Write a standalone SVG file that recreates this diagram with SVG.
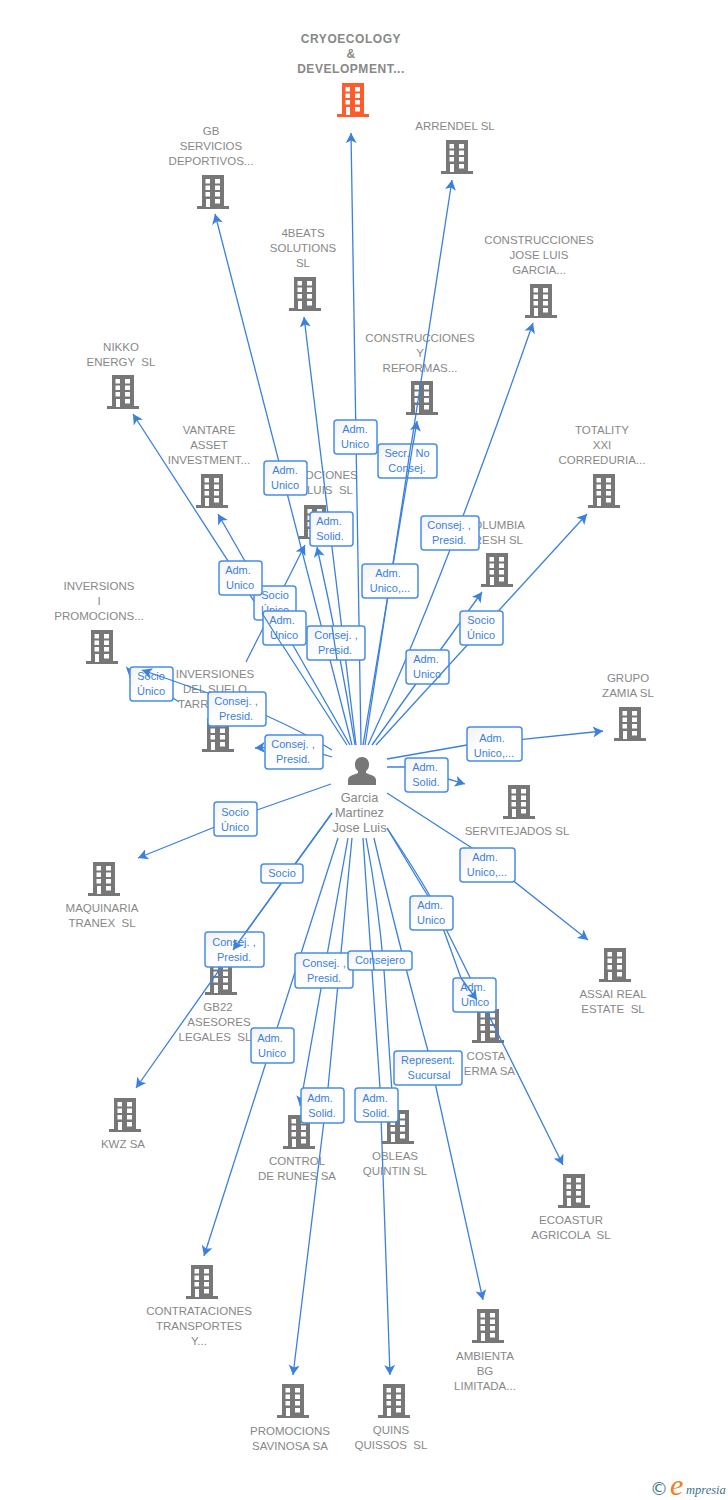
<svg xmlns="http://www.w3.org/2000/svg" width="728" height="1500" viewBox="0 0 728 1500">
<style>
text{font-family:"Liberation Sans",Arial,sans-serif}
.n{font-size:11.5px;fill:#888;text-anchor:middle}
.t{font-weight:bold;font-size:12px;letter-spacing:.55px}
.p{font-size:12.800px}
.b{fill:#777}
.o{fill:#ff5c2b}
.c{fill:none;stroke:#3b80de;stroke-width:1.3;marker-end:url(#a)}
.s{fill:none;stroke:#3b80de;stroke-width:1.3}
.l rect{fill:url(#g);stroke:#4a8ce6;stroke-width:1.5}
.l text{font-size:11px;fill:#3b80de;text-anchor:middle}
</style>
<defs>
<linearGradient id="g" x1="0" y1="0" x2="1" y2="1"><stop offset="0" stop-color="#f2f2f2"/><stop offset=".5" stop-color="#fff"/></linearGradient>
<marker id="a" markerUnits="userSpaceOnUse" markerWidth="12" markerHeight="12" refX="10" refY="6" orient="auto"><path d="M0 .5L10 6L0 11.5L2.500 6z" fill="#3b80de"/></marker>
<path id="bld" fill-rule="evenodd" d="M5 0H27V31H32V34H0V31H5ZM8.500 4V8.500H13V4ZM18 4V8.500H23V4ZM8.500 10.500V15H13V10.500ZM18 10.500V15H23V10.500ZM8.500 17V21.500H13V17ZM18 17V21.500H23V17ZM9 24V32H13V24ZM18 24V28.500H23V24Z"/>
</defs>
<rect width="728" height="1500" fill="#fff"/>
<g id="nodes">
<g id="n-cryo"><use href="#bld" x="337" y="83" class="o"/><text class="n t" x="351" y="43">CRYOECOLOGY</text><text class="n t" x="351" y="58">&amp;</text><text class="n t" x="351" y="73">DEVELOPMENT...</text></g>
<g id="n-gb"><use href="#bld" x="197" y="175" class="b"/><text class="n" x="211" y="135">GB</text><text class="n" x="211" y="150">SERVICIOS</text><text class="n" x="211" y="165">DEPORTIVOS...</text></g>
<g id="n-arrendel"><use href="#bld" x="441" y="140" class="b"/><text class="n" x="455" y="130">ARRENDEL SL</text></g>
<g id="n-4beats"><use href="#bld" x="289" y="277" class="b"/><text class="n" x="303" y="237">4BEATS</text><text class="n" x="303" y="252">SOLUTIONS</text><text class="n" x="303" y="267">SL</text></g>
<g id="n-cjl"><use href="#bld" x="525" y="284" class="b"/><text class="n" x="539" y="244">CONSTRUCCIONES</text><text class="n" x="539" y="259">JOSE LUIS</text><text class="n" x="539" y="274">GARCIA...</text></g>
<g id="n-nikko"><use href="#bld" x="107" y="375" class="b"/><text class="n" x="121" y="351" xml:space="preserve">NIKKO</text><text class="n" x="121" y="366" xml:space="preserve">ENERGY  SL</text></g>
<g id="n-cyr"><use href="#bld" x="406" y="381" class="b"/><text class="n" x="420" y="342">CONSTRUCCIONES</text><text class="n" x="420" y="357">Y</text><text class="n" x="420" y="372">REFORMAS...</text></g>
<g id="n-vantare"><use href="#bld" x="196" y="474" class="b"/><text class="n" x="209" y="434">VANTARE</text><text class="n" x="209" y="449">ASSET</text><text class="n" x="209" y="464">INVESTMENT...</text></g>
<g id="n-prom"><use href="#bld" x="299" y="505" class="b"/><text class="n" x="314" y="479">PROMOCIONES</text><text class="n" x="353" y="494" style="text-anchor:end" xml:space="preserve">LUIS  SL</text></g>
<g id="n-totality"><use href="#bld" x="588" y="474" class="b"/><text class="n" x="602" y="434">TOTALITY</text><text class="n" x="602" y="449">XXI</text><text class="n" x="602" y="464">CORREDURIA...</text></g>
<g id="n-columbia"><use href="#bld" x="481" y="553" class="b"/><text class="n" x="525" y="529" style="text-anchor:end">COLUMBIA</text><text class="n" x="523" y="544" style="text-anchor:end">FRESH SL</text></g>
<g id="n-invi"><use href="#bld" x="86" y="630" class="b"/><text class="n" x="99" y="590">INVERSIONS</text><text class="n" x="99" y="605">I</text><text class="n" x="99" y="620">PROMOCIONS...</text></g>
<g id="n-invs"><use href="#bld" x="202" y="718" class="b"/><text class="n" x="215" y="678">INVERSIONES</text><text class="n" x="215" y="693">DEL SUELO</text><text class="n" x="178" y="708" style="text-anchor:start">TARR</text></g>
<g id="n-zamia"><use href="#bld" x="614" y="707" class="b"/><text class="n" x="628" y="682">GRUPO</text><text class="n" x="628" y="697">ZAMIA SL</text></g>
<g id="n-servi"><use href="#bld" x="503" y="785" class="b"/><text class="n" x="517" y="835">SERVITEJADOS SL</text></g>
<g id="n-maq"><use href="#bld" x="88" y="862" class="b"/><text class="n" x="102" y="912">MAQUINARIA</text><text class="n" x="102" y="927" xml:space="preserve">TRANEX  SL</text></g>
<g id="n-assai"><use href="#bld" x="599" y="948" class="b"/><text class="n" x="613" y="998">ASSAI REAL</text><text class="n" x="613" y="1013" xml:space="preserve">ESTATE  SL</text></g>
<g id="n-gb22"><use href="#bld" x="205" y="961" class="b"/><text class="n" x="218" y="1011">GB22</text><text class="n" x="219" y="1026">ASESORES</text><text class="n" x="215" y="1041" xml:space="preserve">LEGALES  SL</text></g>
<g id="n-costa"><use href="#bld" x="472" y="1009" class="b"/><text class="n" x="486" y="1060">COSTA</text><text class="n" x="515" y="1075" style="text-anchor:end">ERMA SA</text></g>
<g id="n-kwz"><use href="#bld" x="109" y="1098" class="b"/><text class="n" x="123" y="1148">KWZ SA</text></g>
<g id="n-control"><use href="#bld" x="283" y="1115" class="b"/><text class="n" x="297" y="1165">CONTROL</text><text class="n" x="297" y="1180">DE RUNES SA</text></g>
<g id="n-obleas"><use href="#bld" x="382" y="1110" class="b"/><text class="n" x="395" y="1160">OBLEAS</text><text class="n" x="395" y="1175">QUINTIN SL</text></g>
<g id="n-eco"><use href="#bld" x="558" y="1174" class="b"/><text class="n" x="571" y="1224">ECOASTUR</text><text class="n" x="571" y="1239" xml:space="preserve">AGRICOLA  SL</text></g>
<g id="n-contr"><use href="#bld" x="186" y="1265" class="b"/><text class="n" x="199" y="1315">CONTRATACIONES</text><text class="n" x="199" y="1330">TRANSPORTES</text><text class="n" x="199" y="1345">Y...</text></g>
<g id="n-amb"><use href="#bld" x="472" y="1309" class="b"/><text class="n" x="485" y="1360">AMBIENTA</text><text class="n" x="485" y="1375">BG</text><text class="n" x="485" y="1390">LIMITADA...</text></g>
<g id="n-savinosa"><use href="#bld" x="277" y="1384" class="b"/><text class="n" x="290" y="1435">PROMOCIONS</text><text class="n" x="290" y="1450">SAVINOSA SA</text></g>
<g id="n-quins"><use href="#bld" x="378" y="1384" class="b"/><text class="n" x="391" y="1434">QUINS</text><text class="n" x="391" y="1449" xml:space="preserve">QUISSOS  SL</text></g>
<g id="n-person"><path class="b" d="M348 785V780C348 776 353 775 358 773V771C355 769 355 766 355 764C355 760 358 757 362 757C366 757 369 760 369 764C369 766 369 769 366 771V773C371 775 376 776 376 780V785Z"/><text class="n p" x="359.500" y="802">Garcia</text><text class="n p" x="359.500" y="817">Martinez</text><text class="n p" x="359.500" y="832">Jose Luis</text></g>
</g>
<g id="connectors">
<path class="c" d="M361 745L351 133"/>
<path class="c" d="M352 745L215 214"/>
<path class="c" d="M365 745L452 180"/>
<path class="c" d="M363 745L417 421"/>
<path class="c" d="M356 745L304 317"/>
<path class="c" d="M368 745Q440 590 533 323"/>
<path class="c" d="M347 745L133 414"/>
<path class="c" d="M350 745L218 514"/>
<path class="c" d="M246 662L305 545"/>
<path class="c" d="M355 745Q340 650 317 547"/>
<path class="s" d="M332 750Q305 733 267 716L208 693"/>
<path class="c" d="M332 757Q300 745 255 748"/>
<path class="c" d="M179 702C160 690 131 668 129.500 677"/>
<path class="c" d="M372 745L482 592"/>
<path class="c" d="M376 745L587 514"/>
<path class="c" d="M387 759L467 745L603 731"/>
<path class="c" d="M387 767H405L448 779L465 784"/>
<path class="c" d="M387 793L472 848L588 940"/>
<path class="c" d="M387 828Q415 870 430 896L447 931L563 1165"/>
<path class="s" d="M387 828Q412 870 428 896L444 931L461 978"/>
<path class="c" d="M331 784L257 810L138 858"/>
<path class="c" d="M332 813L246 932L136 1088"/>
<path class="s" d="M332 813L246 932"/>
<path class="c" d="M338 838L204 1256"/>
<path class="c" d="M348 838L300 1106"/>
<path class="c" d="M352 838L328 1088L293 1375"/>
<path class="c" d="M363 838L380 1088L390 1375"/>
<path class="c" d="M366 838Q378 900 384 970L393 1108"/>
<path class="c" d="M374 838Q395 930 428 1051L483 1300"/>
</g>
<g id="edge-labels">
<g class="l"><rect x="334" y="420" width="43" height="34" rx="3"/><text x="355" y="433">Adm.</text><text x="355" y="448">Unico</text></g>
<g class="l"><rect x="264" y="461" width="43" height="34" rx="3"/><text x="285" y="474">Adm.</text><text x="285" y="489">Unico</text></g>
<g class="l"><rect x="378" y="444" width="59" height="34" rx="3"/><text x="407" y="457" xml:space="preserve">Secr.  No</text><text x="407" y="472">Consej.</text></g>
<g class="l"><rect x="310" y="512" width="43" height="34" rx="3"/><text x="329" y="525">Adm.</text><text x="330" y="540">Solid.</text></g>
<g class="l"><rect x="421" y="516" width="58" height="34" rx="3"/><text x="449" y="529">Consej. ,</text><text x="449" y="544">Presid.</text></g>
<g class="l"><rect x="362" y="564" width="56" height="34" rx="3"/><text x="388" y="577">Adm.</text><text x="390" y="592">Unico,...</text></g>
<g class="l"><rect x="254" y="586" width="42" height="34" rx="3"/><text x="275" y="599">Socio</text><text x="275" y="614">Único</text></g>
<g class="l"><rect x="219" y="561" width="43" height="34" rx="3"/><text x="238" y="574">Adm.</text><text x="240" y="589">Unico</text></g>
<g class="l"><rect x="263" y="611" width="43" height="34" rx="3"/><text x="282" y="624">Adm.</text><text x="284" y="639">Unico</text></g>
<g class="l"><rect x="307" y="626" width="58" height="34" rx="3"/><text x="336" y="639">Consej. ,</text><text x="335" y="654">Presid.</text></g>
<g class="l"><rect x="460" y="611" width="43" height="34" rx="3"/><text x="481" y="624">Socio</text><text x="481" y="639">Único</text></g>
<g class="l"><rect x="406" y="650" width="43" height="34" rx="3"/><text x="426" y="663">Adm.</text><text x="427" y="678">Unico</text></g>
<g class="l"><rect x="130" y="667" width="43" height="34" rx="3"/><text x="151" y="680">Socio</text><text x="151" y="695">Único</text></g>
<g class="l"><rect x="208" y="692" width="58" height="34" rx="3"/><text x="236" y="705">Consej. ,</text><text x="236" y="720">Presid.</text></g>
<g class="l"><rect x="265" y="735" width="58" height="34" rx="3"/><text x="293" y="748">Consej. ,</text><text x="293" y="763">Presid.</text></g>
<g class="l"><rect x="467" y="727" width="55" height="34" rx="3"/><text x="492" y="742">Adm.</text><text x="494" y="757">Unico,...</text></g>
<g class="l"><rect x="405" y="758" width="43" height="34" rx="3"/><text x="425" y="771">Adm.</text><text x="426" y="786">Solid.</text></g>
<g class="l"><rect x="214" y="802" width="43" height="34" rx="3"/><text x="235" y="816">Socio</text><text x="235" y="831">Único</text></g>
<g class="l"><rect x="460" y="848" width="55" height="34" rx="3"/><text x="485" y="861">Adm.</text><text x="487" y="876">Unico,...</text></g>
<g class="l"><rect x="261" y="864" width="42" height="19" rx="3"/><text x="282" y="877">Socio</text></g>
<g class="l"><rect x="410" y="896" width="43" height="34" rx="3"/><text x="430" y="909">Adm.</text><text x="431" y="924">Unico</text></g>
<g class="l"><rect x="205" y="932" width="59" height="35" rx="3"/><text x="234" y="946">Consej. ,</text><text x="234" y="961">Presid.</text></g>
<g class="l"><rect x="295" y="953" width="58" height="35" rx="3"/><text x="324" y="967">Consej. ,</text><text x="324" y="982">Presid.</text></g>
<g class="l"><rect x="348" y="951" width="64" height="19" rx="3"/><text x="380" y="964">Consejero</text></g>
<g class="l"><rect x="453" y="978" width="43" height="34" rx="3"/><text x="473" y="991">Adm.</text><text x="475" y="1006">Unico</text></g>
<g class="l"><rect x="251" y="1028" width="43" height="35" rx="3"/><text x="270" y="1042">Adm.</text><text x="272" y="1057">Unico</text></g>
<g class="l"><rect x="394" y="1051" width="68" height="34" rx="3"/><text x="428" y="1064">Represent.</text><text x="429" y="1079">Sucursal</text></g>
<g class="l"><rect x="301" y="1088" width="43" height="35" rx="3"/><text x="320" y="1102">Adm.</text><text x="322" y="1117">Solid.</text></g>
<g class="l"><rect x="355" y="1088" width="43" height="34" rx="3"/><text x="375" y="1102">Adm.</text><text x="376" y="1117">Solid.</text></g>
</g>
<g id="connectors-over">
<path class="c" d="M208 693L142 670"/>
<path class="c" d="M246 932L233 950"/>
<path class="c" d="M461 978L477 1000"/>
<path class="s" d="M262 613L282 645"/>
<path class="s" d="M337 660L332 626"/>
<path class="s" d="M411 444L406 478"/>
<path class="s" d="M413 444L407.500 478"/>
<path class="s" d="M372 951L374 970"/>
<path class="s" d="M432 684L449 665"/>
</g>
<g id="footer"><text x="650" y="1495" font-size="18" style="font-family:'DejaVu Sans',sans-serif" fill="#3f7a8f">©</text><text x="670" y="1495" font-size="30" font-style="italic" style="font-family:'Liberation Serif',serif" fill="#f08020">e</text><text x="686" y="1494" font-size="12.500" font-style="italic" style="font-family:'Liberation Serif',serif" fill="#3f6f8c">mpresia</text></g>
</svg>
